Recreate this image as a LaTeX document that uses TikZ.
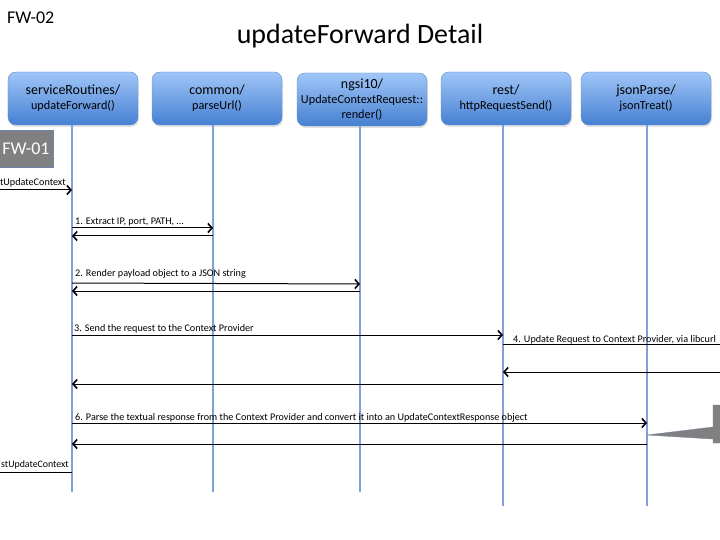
\documentclass[tikz,border=0pt]{standalone}
\usepackage{fontspec}
\setmainfont{Carlito}
\usetikzlibrary{arrows.meta,shadows}
\definecolor{boxtop}{RGB}{160,198,248}
\definecolor{boxbot}{RGB}{70,128,210}
\definecolor{boxline}{RGB}{95,140,205}
\definecolor{lifeblue}{RGB}{125,162,214}
\definecolor{fwgray}{RGB}{128,128,128}
\begin{document}
\begin{tikzpicture}[x=1bp,y=-1bp,
  comp/.style={draw=boxline,rounded corners=8bp,top color=boxtop,bottom color=boxbot,
    minimum width=130bp,minimum height=53bp,inner sep=0pt,align=center,
    font=\fontsize{12.3}{15}\selectfont,
    drop shadow={opacity=0.25,shadow xshift=1bp,shadow yshift=-2bp}},
  life/.style={draw=lifeblue,line width=1.4bp},
  msg/.style={line width=1bp,-{Straight Barb[length=4bp,width=9bp,line width=1.6bp]}},
  plain/.style={line width=1bp},
  lbl/.style={font=\fontsize{10.2}{12}\selectfont,inner sep=0pt}]
\useasboundingbox (0,0) rectangle (720,540);
\node[font=\fontsize{18}{20}\selectfont,anchor=west,inner sep=0pt] (fw2) at (7,18) {FW-02};
\node[font=\fontsize{28}{32}\selectfont] (title) at (360,36) {updateForward Detail};
\node[comp] (sr) at (73,98.5) {{\fontsize{14}{15}\selectfont serviceRoutines/}\\updateForward()};
\node[comp] (cm) at (217,98.5) {{\fontsize{14}{15}\selectfont common/}\\parseUrl()};
\node[comp] (ng) at (362,99.5) {{\fontsize{14}{15}\selectfont ngsi10/}\\UpdateContextRequest::\\render()};
\node[comp] (rs) at (506,98.5) {{\fontsize{14}{15}\selectfont rest/}\\httpRequestSend()};
\node[comp] (jp) at (646,98.5) {{\fontsize{14}{15}\selectfont jsonParse/}\\jsonTreat()};
\coordinate (l1) at (72,492);
\coordinate (l2) at (213,492);
\coordinate (l3) at (360,492);
\coordinate (l4) at (503,506);
\coordinate (l5) at (647,506);
\draw[life] (sr.south -| l1) -- (l1);
\draw[life] (cm.south -| l2) -- (l2);
\draw[life] (ng.south -| l3) -- (l3);
\draw[life] (rs.south -| l4) -- (l4);
\draw[life] (jp.south -| l5) -- (l5);
\node[fill=fwgray,draw=boxline!60!fwgray,anchor=east,minimum width=73bp,minimum height=37bp] (fw1) at (53,148.5) {};
\node[text=white,inner sep=0pt,font=\fontsize{18}{22}\selectfont] (fw1t) at (26,148.5) {FW-01};
\coordinate (in) at (-5,190);
\coordinate (out) at (-5,472);
\coordinate (cpreq) at (725,344);
\coordinate (cprep) at (725,372);
\draw[msg] (in) -- (l1 |- in);
\node[lbl,anchor=base east] (inl) at (66,186) {tUpdateContext};
\draw[msg] (l1 |- 0,228) -- (l2 |- 0,228);
\draw[msg] (l2 |- 0,236) -- (l1 |- 0,236);
\node[lbl,anchor=base west] (m1) at (75,225) {1. Extract IP, port, PATH, \dots};
\draw[msg] (l1 |- 0,283) -- (l3 |- 0,284);
\draw[msg] (l3 |- 0,291) -- (l1 |- 0,291);
\node[lbl,anchor=base west] (m2) at (75,277) {2. Render payload object to a JSON string};
\draw[msg] (l1 |- 0,335) -- (l4 |- 0,335);
\node[lbl,anchor=base west] (m3) at (74,331) {3. Send the request to the Context Provider};
\draw[plain] (l4 |- cpreq) -- (cpreq);
\node[lbl,anchor=base west] (m4) at (513,342) {4. Update Request to Context Provider, via libcurl};
\draw[msg] (cprep) -- (l4 |- cprep);
\draw[msg] (l4 |- 0,384) -- (l1 |- 0,384);
\draw[msg] (l1 |- 0,423) -- (l5 |- 0,423);
\node[lbl,anchor=base west] (m6) at (75,420) {6. Parse the textual response from the Context Provider and convert it into an UpdateContextResponse object};
\draw[msg] (l5 |- 0,444) -- (l1 |- 0,444);
\draw[plain] (l1 |- out) -- (out);
\node[lbl,anchor=base east,font=\fontsize{9.9}{12}\selectfont] (outl) at (69,467) {stUpdateContext};
\fill[fwgray,draw=boxline!40!fwgray] (713,405) -- (740,405) -- (740,443) -- (713,443) -- (713,439)
  -- (l5 |- 0,435) -- (713,427) -- cycle;
\end{tikzpicture}
\end{document}
